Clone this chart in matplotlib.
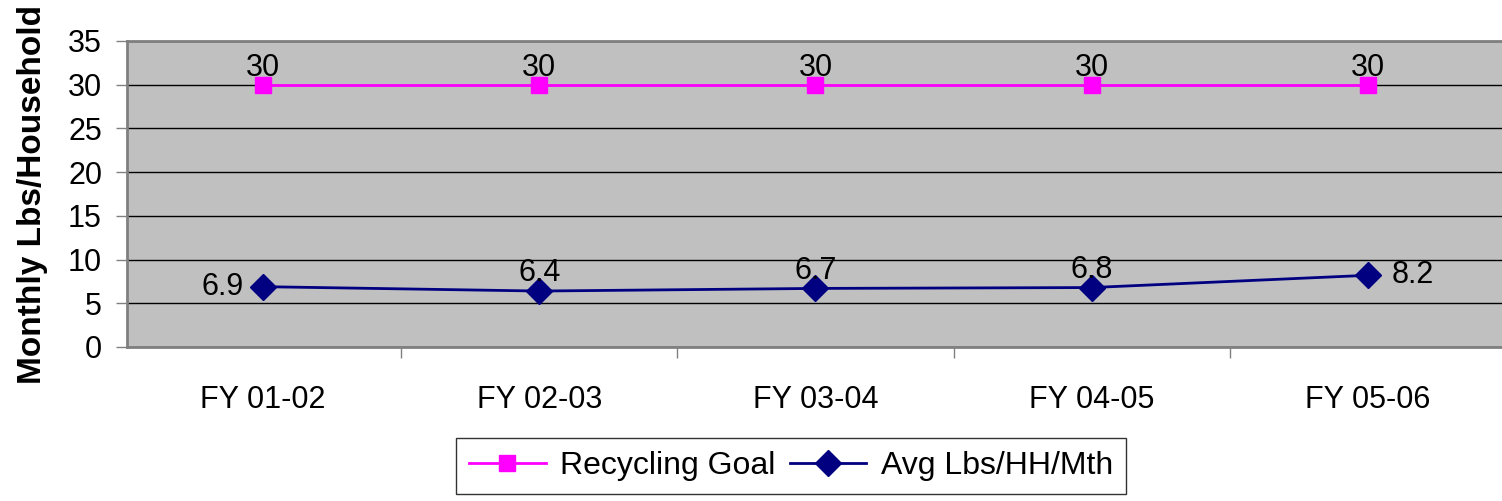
import numpy as np
import matplotlib.pyplot as plt
from matplotlib.ticker import FixedLocator, NullFormatter

plt.rcParams['font.family'] = ['Liberation Sans', 'DejaVu Sans']

years = ['FY 01-02', 'FY 02-03', 'FY 03-04', 'FY 04-05', 'FY 05-06']
goal = [30, 30, 30, 30, 30]
avg_lbs = [6.9, 6.4, 6.7, 6.8, 8.2]
avg_labels = ['6.9', '6.4', '6.7', '6.8', '8.2']

fs = 22

fig = plt.figure(figsize=(15.02, 5.01), dpi=100)
ax = fig.add_axes([127 / 1502, 1 - 347 / 501, (1502 - 127) / 1502, 306 / 501])
ax.set_facecolor('#c0c0c0')

x = np.arange(len(years))
ax.plot(x, goal, color='#ff00ff', lw=2, marker='s', ms=12,
        label='Recycling Goal', zorder=3)
ax.plot(x, avg_lbs, color='#000080', lw=2, marker='D', ms=13,
        label='Avg Lbs/HH/Mth', zorder=3)

for i, v in enumerate(goal):
    ax.annotate(str(v), (x[i], v), xytext=(0, 1), textcoords='offset points',
                ha='center', va='bottom', fontsize=fs)
for i, v in enumerate(avg_lbs):
    if i == 0:
        ax.annotate(avg_labels[i], (x[i], v), xytext=(-14, 0), textcoords='offset points',
                    ha='right', va='center', fontsize=fs)
    elif i == len(avg_lbs) - 1:
        ax.annotate(avg_labels[i], (x[i], v), xytext=(17, 0), textcoords='offset points',
                    ha='left', va='center', fontsize=fs)
    else:
        ax.annotate(avg_labels[i], (x[i], v), xytext=(0, 2), textcoords='offset points',
                    ha='center', va='bottom', fontsize=fs)

ax.set_xlim(-0.493, 4.486)
ax.set_ylim(0, 35)
ax.set_yticks(np.arange(0, 36, 5))
ax.yaxis.grid(True, color='black', lw=1)
ax.set_axisbelow(True)

ax.xaxis.set_major_locator(FixedLocator(np.arange(-0.5, 5, 1)))
ax.xaxis.set_major_formatter(NullFormatter())
ax.xaxis.set_minor_locator(FixedLocator(x))
ax.set_xticklabels(years, minor=True)
ax.tick_params(axis='x', which='minor', length=0, pad=27, labelsize=fs)
ax.tick_params(axis='x', which='major', length=8, width=1, color='#808080')
ax.tick_params(axis='y', length=8, width=1, color='#808080', labelsize=fs, pad=10)

for side in ['left', 'bottom', 'top']:
    ax.spines[side].set_color('#808080')
    ax.spines[side].set_linewidth(2)
ax.spines['right'].set_visible(False)

ax.set_ylabel('Monthly Lbs/Household', fontsize=24, fontweight='bold', labelpad=14)

leg = fig.legend(loc='upper center', bbox_to_anchor=(791 / 1502, 1 - 438 / 501),
                 ncol=2, fontsize=23, frameon=True, fancybox=False,
                 edgecolor='black', borderpad=0.4, handlelength=2.4,
                 columnspacing=0.45, handletextpad=0.45, borderaxespad=0)
leg.get_frame().set_linewidth(1)

plt.savefig('out.png', dpi=100)
